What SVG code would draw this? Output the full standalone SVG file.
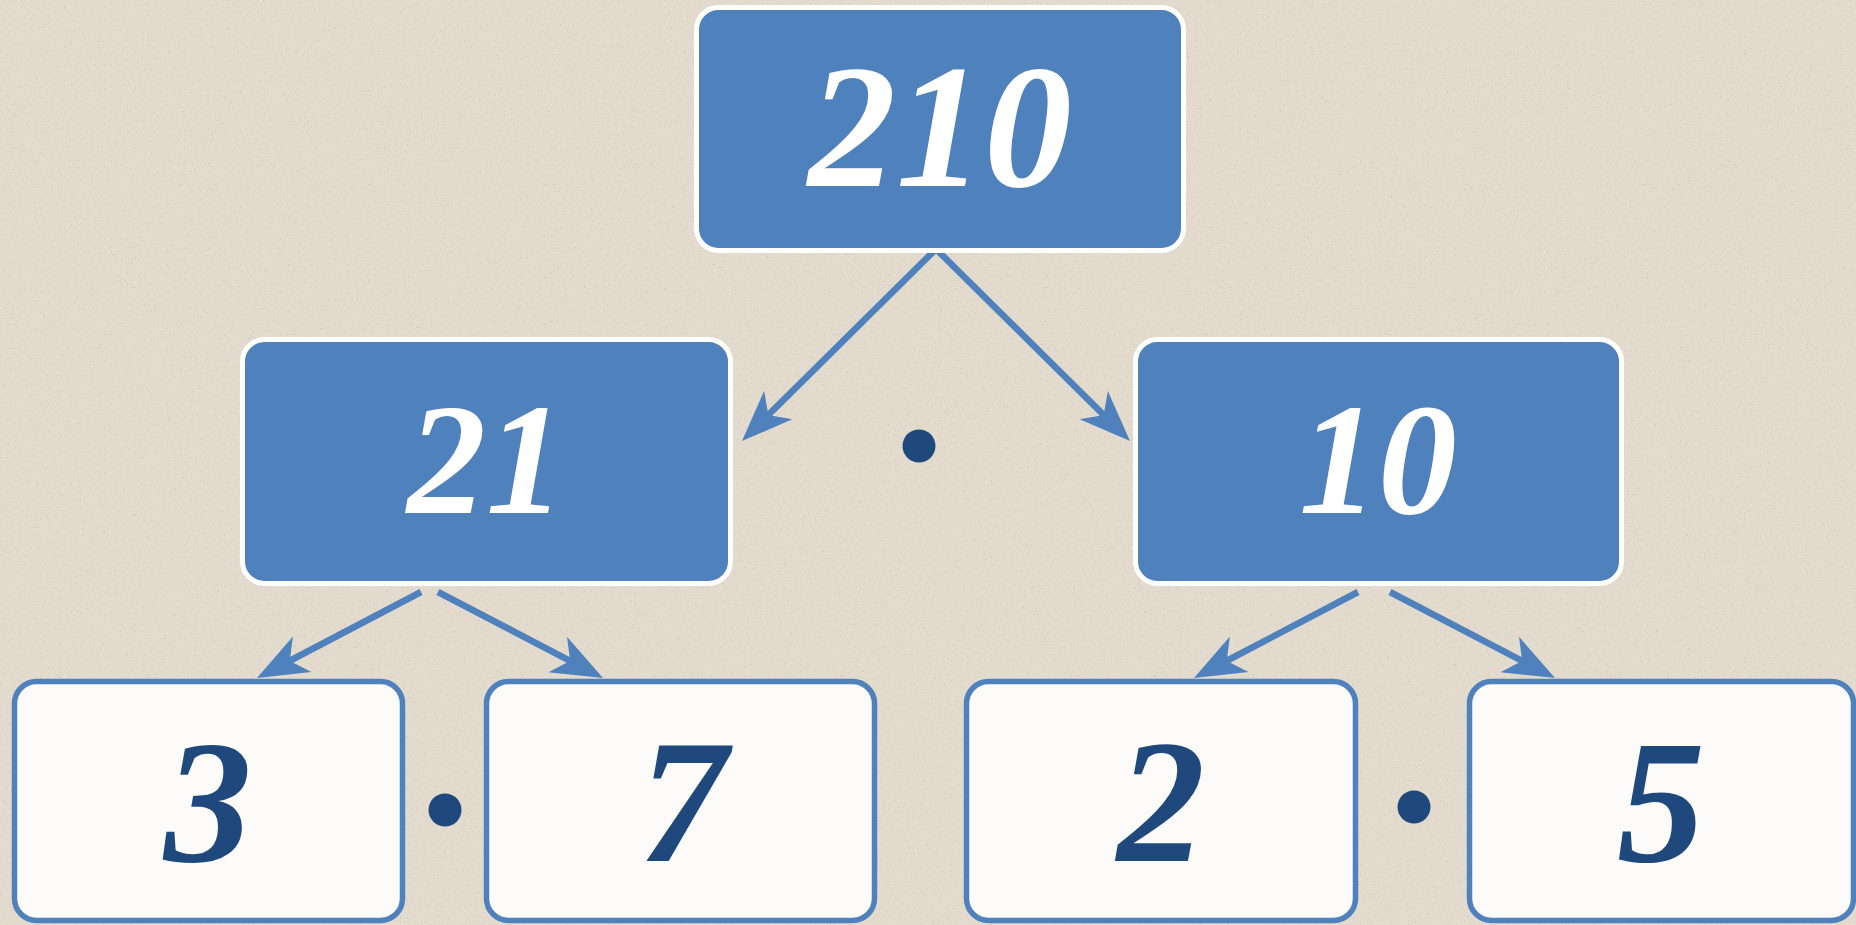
<svg xmlns="http://www.w3.org/2000/svg" width="1856" height="925" viewBox="0 0 1856 925">
  <style>
    .blue { fill: #4f81bd; stroke: #ffffff; stroke-width: 5; }
    .white { fill: #fcfbf9; stroke: #4f81bd; stroke-width: 5.5; }
    .tw { font-family: "Liberation Serif", "Times New Roman", serif; font-weight: bold; font-style: italic; fill: #ffffff; text-anchor: middle; }
    .td { font-family: "Liberation Serif", "Times New Roman", serif; font-weight: bold; font-style: italic; fill: #1f497d; text-anchor: middle; font-size: 176px; }
    .arrow { fill: #4f81bd; stroke: none; }
    .dot { fill: #1f497d; }
  </style>
  <defs>
    <filter id="paper" x="0" y="0" width="100%" height="100%" filterUnits="userSpaceOnUse">
      <feTurbulence type="fractalNoise" baseFrequency="0.7" numOctaves="2" seed="7" result="n"/>
      <feColorMatrix in="n" type="matrix" values="0 0 0 0 0.45  0 0 0 0 0.41  0 0 0 0 0.35  4 0 0 0 -2.5"/>
    </filter>
  </defs>

  <rect x="0" y="0" width="1856" height="925" fill="#e3dbcd"/>
  <rect x="0" y="0" width="1856" height="925" filter="url(#paper)" opacity="0.6"/>

  <g id="connectors">
    <path class="arrow" d="M933.71,246.69 L767.64,411.04 L764.18,390.90 L742,441 L792.32,419.34 L772.22,415.66 L938.29,251.31 Z"/>
    <path class="arrow" d="M933.71,251.31 L1099.78,415.66 L1079.68,419.34 L1130,441 L1107.82,390.90 L1104.36,411.04 L938.29,246.69 Z"/>
    <path class="arrow" d="M419.49,589.12 L290.30,656.87 L292.88,636.61 L257,678 L311.46,672.03 L293.32,662.63 L422.51,594.88 Z"/>
    <path class="arrow" d="M436.50,594.88 L566.65,662.72 L548.53,672.17 L603,678 L567.01,636.69 L569.65,656.96 L439.50,589.12 Z"/>
    <path class="arrow" d="M1356.49,589.12 L1227.30,656.87 L1229.88,636.61 L1194,678 L1248.46,672.03 L1230.32,662.63 L1359.51,594.88 Z"/>
    <path class="arrow" d="M1388.50,594.88 L1518.65,662.72 L1500.53,672.17 L1555,678 L1519.01,636.69 L1521.65,656.96 L1391.50,589.12 Z"/>
  </g>

  <g id="node-210">
    <rect class="blue" x="696.5" y="7.5" width="487" height="243" rx="22"/>
    <text class="tw" x="940" y="186" font-size="176">210</text>
  </g>
  <g id="node-21">
    <rect class="blue" x="242.5" y="339.5" width="488" height="244" rx="22"/>
    <text class="tw" x="486" y="513" font-size="158">21</text>
  </g>
  <g id="node-10">
    <rect class="blue" x="1135.5" y="339.5" width="486" height="244" rx="22"/>
    <text class="tw" x="1378" y="513" font-size="158">10</text>
  </g>
  <g id="node-3">
    <rect class="white" x="14.5" y="681.5" width="388" height="239" rx="22"/>
    <text class="td" x="208" y="861">3</text>
  </g>
  <g id="node-7">
    <rect class="white" x="486.5" y="681.5" width="388" height="239" rx="22"/>
    <text class="td" x="683" y="861">7</text>
  </g>
  <g id="node-2">
    <rect class="white" x="966.5" y="681.5" width="389" height="239" rx="22"/>
    <text class="td" x="1161" y="861">2</text>
  </g>
  <g id="node-5">
    <rect class="white" x="1469.5" y="681.5" width="384" height="239" rx="22"/>
    <text class="td" x="1661" y="861">5</text>
  </g>

  <g id="dots">
    <circle class="dot" cx="919" cy="446" r="16.5"/>
    <circle class="dot" cx="445" cy="810" r="16.5"/>
    <circle class="dot" cx="1414" cy="807" r="16.5"/>
  </g>
</svg>
